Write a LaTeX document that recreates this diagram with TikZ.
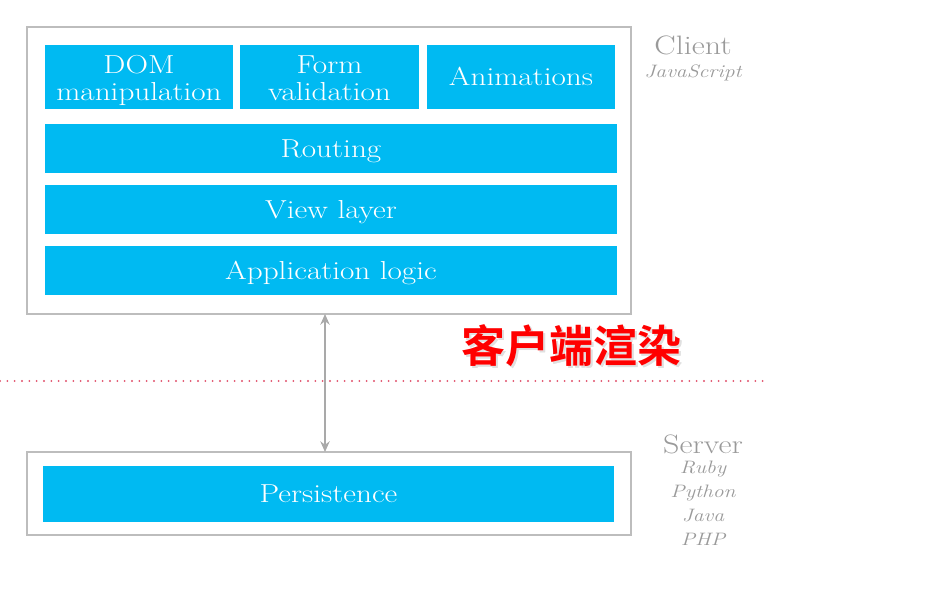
\documentclass[tikz,border=0pt]{standalone}
\usepackage{fontspec}
\setmainfont{Latin Modern Roman}[FakeStretch=1.2]
\newfontfamily\cjk{Noto Sans CJK SC}[BoldFont={Noto Sans CJK SC Bold}]
\usetikzlibrary{arrows.meta}
\usepackage[outline]{contour}
\definecolor{boxblue}{HTML}{00BAF2}
\definecolor{framegray}{HTML}{BDBDBD}
\definecolor{labelgray}{HTML}{9A9A9A}
\definecolor{dotred}{HTML}{E0506A}
\newcommand{\captxt}{客户端渲染}
\begin{document}
\begin{tikzpicture}[x=0.75pt,y=-0.75pt,
  frame/.style={draw=framegray,line width=1.5pt,fill=white},
  blue/.style={fill=boxblue,draw=none,text=white,font=\fontsize{19.5}{21}\selectfont,align=center,inner sep=0pt},
  single/.style={blue,text height=13.3pt,text depth=0pt},
  double/.style={blue,text height=35pt,text depth=0pt},
  side/.style={text=labelgray,font=\fontsize{20}{22}\selectfont,inner sep=0pt},
  sidesub/.style={text=labelgray,font=\fontsize{13.5}{15}\selectfont\itshape,inner sep=0pt}]
\useasboundingbox (0,0) rectangle (928,605);
% frames
\draw[frame] (27,27) rectangle (631,314);
\draw[frame] (27,452) rectangle (631,535);
% client boxes
\node[double,minimum width=188*0.75pt,minimum height=64*0.75pt] (dom) at (139,77) {DOM\\[-0.75pt]manipulation};
\node[double,minimum width=179*0.75pt,minimum height=64*0.75pt] (form) at (329.5,77) {Form\\[-0.75pt]validation};
\node[single,minimum width=188*0.75pt,minimum height=64*0.75pt] (anim) at (521,77) {Animations};
\node[single,minimum width=572*0.75pt,minimum height=49*0.75pt] (routing) at (331,148.5) {Routing};
\node[single,minimum width=572*0.75pt,minimum height=49*0.75pt] (view) at (331,209.5) {View layer};
\node[single,minimum width=572*0.75pt,minimum height=49*0.75pt] (app) at (331,270.5) {Application logic};
% server box
\node[single,minimum width=571*0.75pt,minimum height=56*0.75pt] (pers) at (328.5,494) {Persistence};
% connector
\coordinate (top) at (325,314);
\coordinate (bot) at (325,452);
\draw[draw=labelgray!85,line width=1.5pt,{Stealth[length=8pt,width=7pt]}-{Stealth[length=8pt,width=7pt]}] (top) -- (bot);
% dotted divider
\coordinate (dl) at (0,381);
\coordinate (dr) at (765,381);
\draw[dotred,line width=1.6pt,line cap=round,dash pattern=on 0pt off 5.5pt] (dl) -- (dr);
% side labels
\node[side] (clientlbl) at (693,45) {Client};
\node[sidesub] (js) at (693,73) {JavaScript};
\node[side] (serverlbl) at (703,444) {Server};
\node[sidesub] (ruby) at (703,469) {Ruby};
\node[sidesub] (python) at (703,493) {Python};
\node[sidesub] (java) at (703,516) {Java};
\node[sidesub] (php) at (703,539) {PHP};
% chinese caption
\node[inner sep=0pt] (cap) at (571,347) {\cjk\bfseries\fontsize{33}{36}\selectfont
  \rlap{\hspace{1.5pt}\raisebox{-1.5pt}{\contourlength{3pt}\contour{black!12}{\textcolor{black!12}{\captxt}}}}%
  \contourlength{2.2pt}\contour{white}{\textcolor{red}{\captxt}}};
\end{tikzpicture}
\end{document}
